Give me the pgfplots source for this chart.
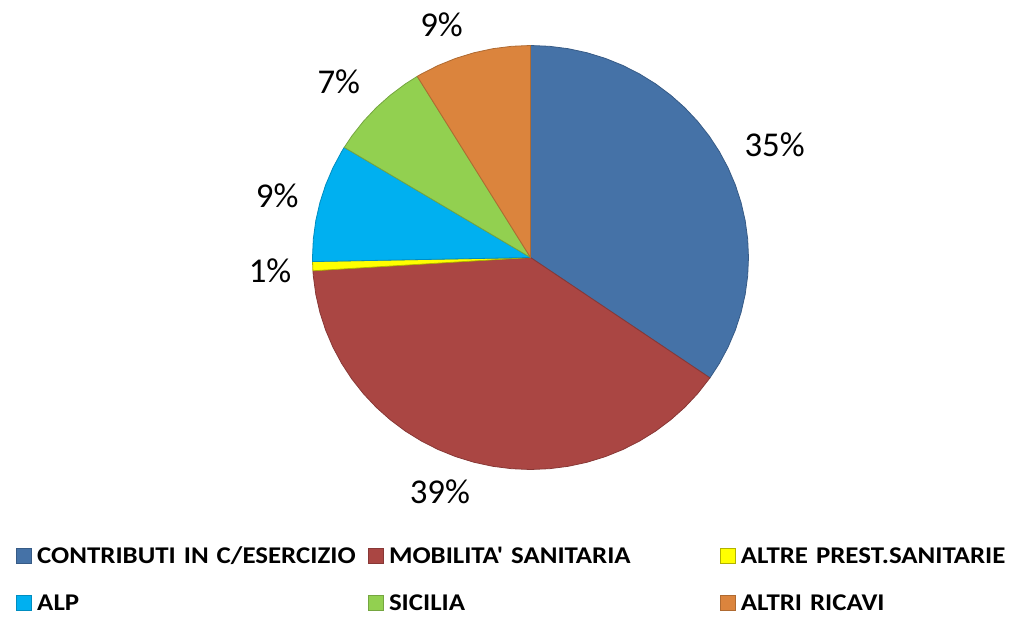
\documentclass[border=0pt]{standalone}
\usepackage{pgfplots}
\pgfplotsset{compat=1.18}
\usepgfplotslibrary{polar}
\usepackage{fontspec}
\setmainfont{Carlito}
\newfontfamily\legfont[FakeStretch=1.12]{Carlito}

\definecolor{cBlue}{HTML}{4572A7}
\definecolor{cRed}{HTML}{AA4643}
\definecolor{cYellow}{HTML}{FFFF00}
\definecolor{cCyan}{HTML}{00B0F0}
\definecolor{cGreen}{HTML}{92D050}
\definecolor{cOrange}{HTML}{DB843D}

\begin{document}
\begin{tikzpicture}
\useasboundingbox (0pt,0pt) rectangle (508.5pt,-309.5pt);
\begin{polaraxis}[
    at={(265.25pt,-128.75pt)}, anchor=center,
    width=218pt, height=212pt, scale only axis,
    hide axis, ymin=0, ymax=1, clip=false,
    legend columns=3,
    legend cell align=left,
    legend image code/.code={\draw[#1] (0pt,-3.6pt) rectangle (7.5pt,3.6pt);},
    legend style={at={(-0.680,-0.185)}, anchor=north west,
        draw=none, fill=none, inner sep=0pt,
        font=\legfont\bfseries\fontsize{12}{14}\selectfont,
        nodes={inner sep=0pt, anchor=west, text width=165.5pt,
               text height=7.7pt, text depth=0pt},
        column sep=0pt,
        /tikz/every odd column/.append style={column sep=2.5pt},
        row sep=15.8pt},
  ]
  % sectors: angle boundaries from the shares 34.6, 39.4, 0.7, 9.0, 7.6, 8.7 %
  \addplot[fill=cBlue, draw=cBlue!80!black, line width=0.4pt] coordinates {
    (0,0) (90,1) (85,1) (80,1) (75,1) (70,1) (65,1) (60,1) (55,1) (50,1)
    (45,1) (40,1) (35,1) (30,1) (25,1) (20,1) (15,1) (10,1) (5,1) (0,1)
    (-5,1) (-10,1) (-15,1) (-20,1) (-25,1) (-30,1) (-34.6,1) (0,0)};
  \addlegendentry{CONTRIBUTI IN C/ESERCIZIO}
  \addplot[fill=cRed, draw=cRed!80!black, line width=0.4pt] coordinates {
    (0,0) (325.4,1) (320,1) (315,1) (310,1) (305,1) (300,1) (295,1) (290,1)
    (285,1) (280,1) (275,1) (270,1) (265,1) (260,1) (255,1) (250,1) (245,1)
    (240,1) (235,1) (230,1) (225,1) (220,1) (215,1) (210,1) (205,1) (200,1)
    (195,1) (190,1) (185,1) (183.6,1) (0,0)};
  \addlegendentry{MOBILITA' SANITARIA}
  \addplot[fill=cYellow, draw=cYellow!70!black, line width=0.4pt] coordinates {
    (0,0) (183.6,1) (182.4,1) (181.1,1) (0,0)};
  \addlegendentry{ALTRE PREST.SANITARIE}
  \addplot[fill=cCyan, draw=cCyan!80!black, line width=0.4pt] coordinates {
    (0,0) (181.1,1) (180,1) (175,1) (170,1) (165,1) (160,1) (155,1) (150,1)
    (148.7,1) (0,0)};
  \addlegendentry{ALP}
  \addplot[fill=cGreen, draw=cGreen!80!black, line width=0.4pt] coordinates {
    (0,0) (148.7,1) (145,1) (140,1) (135,1) (130,1) (125,1) (121.3,1) (0,0)};
  \addlegendentry{SICILIA}
  \addplot[fill=cOrange, draw=cOrange!80!black, line width=0.4pt] coordinates {
    (0,0) (121.3,1) (120,1) (115,1) (110,1) (105,1) (100,1) (95,1) (90,1) (0,0)};
  \addlegendentry{ALTRI RICAVI}

  \begin{scope}[font=\fontsize{17.4}{20}\selectfont]
    \node at (axis cs:25.4,1.240) {35\%};
    \node at (axis cs:249.4,1.182) {39\%};
    \node at (axis cs:182.9,1.196) {1\%};
    \node at (axis cs:165.9,1.198) {9\%};
    \node at (axis cs:136.7,1.208) {7\%};
    \node at (axis cs:110.4,1.170) {9\%};
  \end{scope}
\end{polaraxis}
\end{tikzpicture}
\end{document}
